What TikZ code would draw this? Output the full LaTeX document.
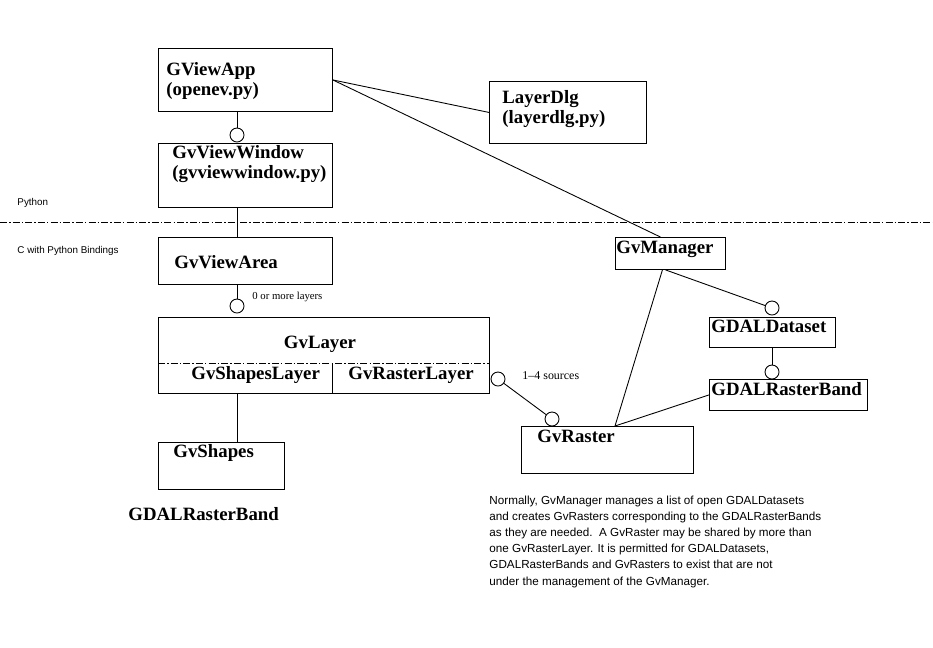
\documentclass[tikz,border=0pt]{standalone}
\usepackage{fontspec}
\setmainfont{Liberation Serif}
\setsansfont{Liberation Sans}

\tikzset{
  classbox/.style={draw, line width=0.5pt, anchor=north west, inner sep=0pt},
  classname/.style={anchor=base west, inner sep=0pt, align=left, font=\bfseries\fontsize{10.7}{11.3}\selectfont},
  assoc/.style={draw, circle, line width=0.5pt, inner sep=0pt, minimum size=0.28cm},
  note/.style={anchor=base west, inner sep=0pt, font=\fontsize{6.4}{7}\selectfont},
  sidenote/.style={anchor=base west, inner sep=0pt, font=\sffamily\fontsize{5.6}{6}\selectfont},
  divider/.style={line width=0.5pt, dash pattern=on 4pt off 1.2pt on 0.8pt off 1.2pt}
}

\begin{document}
\begin{tikzpicture}[x=0.02cm, y=-0.02cm, line width=0.5pt]
  \useasboundingbox (0,0) rectangle (933,647);

  % language split
  \coordinate (splitL) at (0,222);
  \coordinate (splitR) at (933,222);
  \draw[divider] (splitL) -- (splitR);
  \node[sidenote] (pyNote) at (17,205) {Python};
  \node[sidenote] (cNote) at (17,253) {C with Python Bindings};

  % python side (multi-line names sit on their last baseline)
  \node[classbox, minimum width=3.48cm, minimum height=1.26cm] (app) at (158,48) {};
  \node[classname] (appT) at (166,95) {GViewApp\\(openev.py)};
  \node[classbox, minimum width=3.14cm, minimum height=1.24cm] (dlg) at (489,81) {};
  \node[classname] (dlgT) at (502,123) {LayerDlg\\(layerdlg.py)};
  \node[assoc] (cWin) at (237,135) {};
  \node[classbox, minimum width=3.48cm, minimum height=1.28cm] (win) at (158,143) {};
  \node[classname] (winT) at (172,178) {GvViewWindow\\(gvviewwindow.py)};

  % C side
  \node[classbox, minimum width=3.48cm, minimum height=0.94cm] (area) at (158,237) {};
  \node[classname] (areaT) at (174,268) {GvViewArea};
  \node[assoc] (cLayer) at (237,306) {};
  \node[note, font=\fontsize{6.1}{7}\selectfont] (layersNote) at (252,299) {0 or more layers};

  \node[classbox, minimum width=6.62cm, minimum height=1.52cm] (layer) at (158,317) {};
  \node[classname, anchor=base] (layerT) at (320,348) {GvLayer};
  \coordinate (layerCutL) at (158,363);
  \coordinate (layerCutR) at (489,363);
  \coordinate (layerMid) at (332,363);
  \draw[divider] (layerCutL) -- (layerCutR);
  \draw (layerMid) -- (layerMid |- layer.south);
  \node[classname] (shapesLayerT) at (191,379) {GvShapesLayer};
  \node[classname] (rasterLayerT) at (348,379) {GvRasterLayer};

  \node[classbox, minimum width=2.52cm, minimum height=0.94cm] (shapes) at (158,442) {};
  \node[classname] (shapesT) at (173,457) {GvShapes};
  \node[classname] (bandNote) at (128,520) {GDALRasterBand};

  \node[assoc] (cSrc) at (498,379) {};
  \node[note, font=\fontsize{6.8}{7}\selectfont] (srcNote) at (522,379) {1--4 sources};
  \node[assoc] (cRaster) at (552,419) {};
  \node[classbox, minimum width=3.44cm, minimum height=0.94cm] (raster) at (521,426) {};
  \node[classname] (rasterT) at (537,442) {GvRaster};
  \coordinate (rasterTop) at (615,426);

  \node[classbox, minimum width=2.2cm, minimum height=0.64cm] (mgr) at (615,237) {};
  \node[classname] (mgrT) at (616,253) {GvManager};
  \node[assoc] (cSet) at (772,308) {};
  \node[classbox, minimum width=2.52cm, minimum height=0.6cm] (dataset) at (709,317) {};
  \node[classname] (datasetT) at (711,332) {GDALDataset};
  \node[assoc] (cBand) at (772,372) {};
  \node[classbox, minimum width=3.16cm, minimum height=0.62cm] (band) at (709,379) {};
  \node[classname] (bandT) at (711,395) {GDALRasterBand};

  % connectors
  \draw (cWin) -- (cWin |- app.south);
  \draw (win.south -| cWin) -- (area.north -| cWin);
  \draw (area.south -| cLayer) -- (cLayer);
  \draw (layer.south -| cLayer) -- (shapes.north -| cLayer);
  \draw (app.east) -- (dlg.west);
  \draw (app.east) -- ([xshift=-0.2cm]mgr.north);
  \draw ([xshift=-0.16cm]mgr.south) -- (rasterTop);
  \draw ([xshift=-0.1cm]mgr.south) -- (cSet);
  \draw (dataset.south -| cBand) -- (cBand);
  \draw (band.west) -- (rasterTop);
  \draw (cSrc) -- (cRaster);

  % note
  \node[anchor=base west, inner sep=0pt, align=left, font=\sffamily\fontsize{6.65}{9.2}\selectfont] (mgrNote) at (489,585)
    {Normally, GvManager manages a list of open GDALDatasets\\
     and creates GvRasters corresponding to the GDALRasterBands\\
     as they are needed.\ \ A GvRaster may be shared by more than\\
     one GvRasterLayer. It is permitted for GDALDatasets,\\
     GDALRasterBands and GvRasters to exist that are not\\
     under the management of the GvManager.};
\end{tikzpicture}
\end{document}
